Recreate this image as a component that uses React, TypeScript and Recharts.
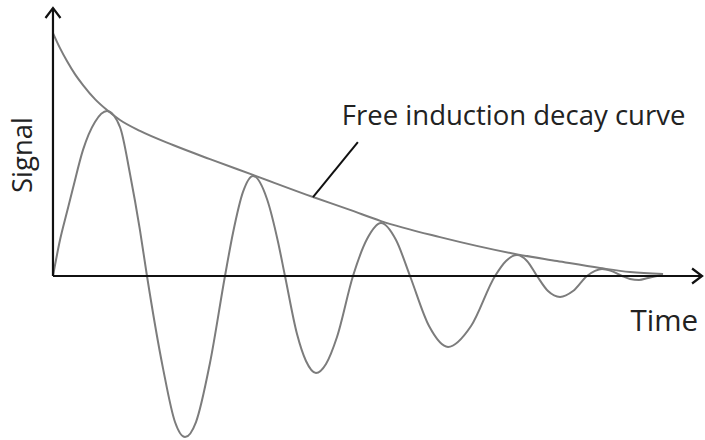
import React from 'react';
import { LineChart, Line, XAxis, YAxis, ReferenceLine } from 'recharts';

// Plot ranges (time in arbitrary units, signal in % of initial amplitude)
const timeDomain: [number, number] = [-0.815, 10.03];
const signalDomain: [number, number] = [-67.5, 113.6];

// Oscillating FID signal
const fidTime = [
  0, 0.108, 0.215, 0.308, 0.462, 0.646, 0.831, 1.031, 1.185, 1.338, 1.446,
  1.692, 1.877, 2.031, 2.2, 2.415, 2.646, 2.769, 2.923, 3.077, 3.292,
  3.462, 3.569, 3.754, 3.892, 4.046, 4.2, 4.369, 4.615, 4.831, 5.046,
  5.277, 5.492, 5.785, 6.077, 6.431, 6.8, 6.969, 7.138, 7.292, 7.446,
  7.615, 7.8, 8.0, 8.215, 8.338, 8.446, 8.585, 8.754, 8.877, 9.015,
  9.154, 9.292, 9.385,
];
const fidSignal = [
  0, 14.8, 26.3, 36.2, 51.9, 63.4, 67.9, 61.3, 42.0, 18.9, 0,
  -37.9, -60.1, -66.3, -60.1, -35.8, 0, 17.7, 34.6, 41.2, 31.7,
  14.0, 0, -23.9, -35.0, -39.9, -36.2, -25.1, 0, 15.2, 21.8,
  14.8, 0, -20.6, -29.2, -20.6, 0, 6.2, 8.6, 6.2, 0,
  -6.2, -8.6, -6.2, 0, 2.1, 2.9, 2.1, 0, -1.2, -1.6,
  -0.8, 0, 0.4,
];

// Decay envelope
const envelopeTime = [
  0, 0.108, 0.215, 0.338, 0.462, 0.646, 0.831, 1.031, 1.338, 1.846,
  2.415, 3.077, 4.0, 4.569, 5.046, 5.954, 7.108, 7.754, 8.415, 8.877, 9.385,
];
const envelopeSignal = [
  100, 93.8, 88.5, 83.1, 78.6, 72.8, 68.3, 64.2, 59.7, 53.9,
  48.1, 41.6, 32.5, 27.2, 22.6, 16.0, 9.1, 6.2, 3.3, 1.6, 0.8,
];

// Axis extents and annotation pointer
const axisTopSignal = 110.3;
const axisEndTime = 9.985;
const pointerFrom = { t: 4.0, s: 32.5 };
const pointerTo = { t: 4.69, s: 55.1 };

const signalLabel = 'Signal';
const timeLabel = 'Time';
const curveLabel = 'Free induction decay curve';

const fidData = fidTime.map((t, i) => ({ t, s: fidSignal[i] }));
const envelopeData = envelopeTime.map((t, i) => ({ t, s: envelopeSignal[i] }));

const FONT = '"Open Sans", sans-serif';
const TEXT_COLOR = '#222';
const AXIS_COLOR = '#111';
const CURVE_COLOR = '#7c7c7c';

function arrowHead(x1: number, y1: number, x2: number, y2: number) {
  const len = Math.hypot(x2 - x1, y2 - y1) || 1;
  const ux = (x2 - x1) / len;
  const uy = (y2 - y1) / len;
  const back = 10;
  const side = 7.5;
  const ax = x2 - ux * back - uy * side;
  const ay = y2 - uy * back + ux * side;
  const bx = x2 - ux * back + uy * side;
  const by = y2 - uy * back - ux * side;
  return `M${ax},${ay} L${x2},${y2} L${bx},${by}`;
}

const SignalAxis = (props: any) => {
  const { x1, y1, x2, y2 } = props;
  const lx = x1 - 21;
  const ly = 155;
  return (
    <g>
      <line x1={x1} y1={y1} x2={x2} y2={y2} stroke={AXIS_COLOR} strokeWidth={2.2} />
      <path d={arrowHead(x1, y1, x2, y2)} fill="none" stroke={AXIS_COLOR} strokeWidth={2.2} />
      <text
        x={lx}
        y={ly}
        textAnchor="middle"
        transform={`rotate(-90 ${lx} ${ly})`}
        fontFamily={FONT}
        fontSize={27.5}
        fill={TEXT_COLOR}
      >
        {signalLabel}
      </text>
    </g>
  );
};

const TimeAxis = (props: any) => {
  const { x1, y1, x2, y2 } = props;
  return (
    <g>
      <line x1={x1} y1={y1} x2={x2} y2={y2} stroke={AXIS_COLOR} strokeWidth={2.2} />
      <path d={arrowHead(x1, y1, x2, y2)} fill="none" stroke={AXIS_COLOR} strokeWidth={2.2} />
      <text x={x2 - 4} y={y2 + 55} textAnchor="end" fontFamily={FONT} fontSize={29.5} fill={TEXT_COLOR}>
        {timeLabel}
      </text>
    </g>
  );
};

const Pointer = (props: any) => {
  const { x1, y1, x2, y2 } = props;
  return (
    <g>
      <line x1={x1} y1={y1} x2={x2} y2={y2} stroke={AXIS_COLOR} strokeWidth={2} />
      <text x={x2 - 16} y={y2 - 17} fontFamily={FONT} fontSize={27.5} fill={TEXT_COLOR}>
        {curveLabel}
      </text>
    </g>
  );
};

export default function App() {
  return (
    <div style={{ position: 'absolute', left: 0, top: 0, background: '#fff' }}>
      <LineChart width={705} height={440} margin={{ top: 0, right: 0, bottom: 0, left: 0 }}>
        <XAxis type="number" dataKey="t" domain={timeDomain} allowDataOverflow hide />
        <YAxis type="number" dataKey="s" domain={signalDomain} allowDataOverflow hide />
        <Line
          data={envelopeData}
          dataKey="s"
          type="monotone"
          stroke={CURVE_COLOR}
          strokeWidth={2}
          dot={false}
          activeDot={false}
          isAnimationActive={false}
        />
        <Line
          data={fidData}
          dataKey="s"
          type="monotone"
          stroke={CURVE_COLOR}
          strokeWidth={2}
          dot={false}
          activeDot={false}
          isAnimationActive={false}
        />
        <ReferenceLine
          segment={[{ x: 0, y: 0 }, { x: 0, y: axisTopSignal }]}
          shape={SignalAxis}
          ifOverflow="visible"
        />
        <ReferenceLine
          segment={[{ x: 0, y: 0 }, { x: axisEndTime, y: 0 }]}
          shape={TimeAxis}
          ifOverflow="visible"
        />
        <ReferenceLine
          segment={[{ x: pointerFrom.t, y: pointerFrom.s }, { x: pointerTo.t, y: pointerTo.s }]}
          shape={Pointer}
          ifOverflow="visible"
        />
      </LineChart>
    </div>
  );
}
